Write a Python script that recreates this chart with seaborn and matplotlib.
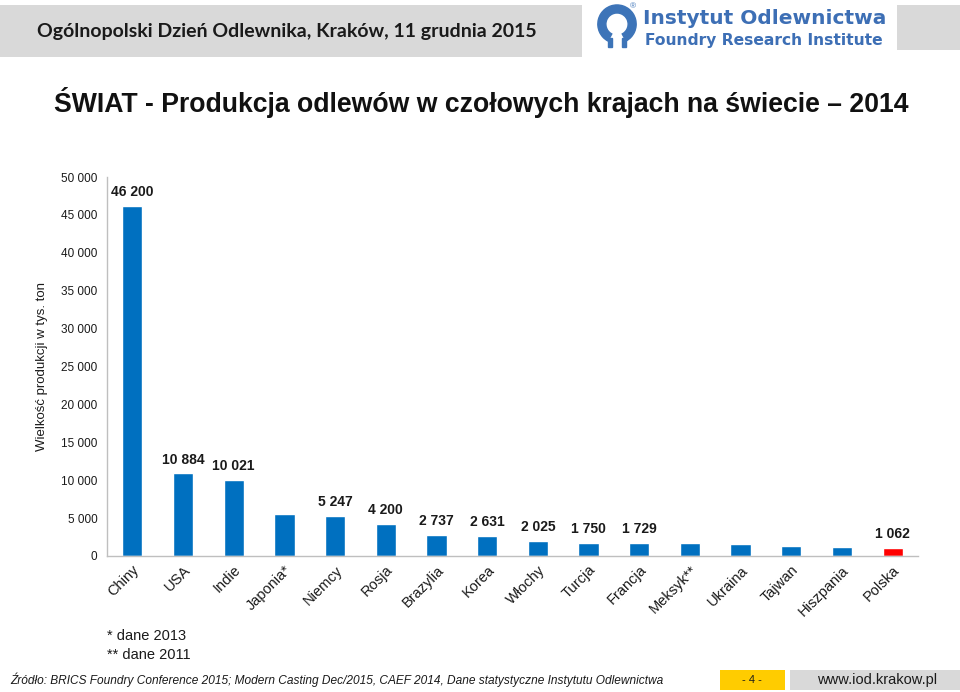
import matplotlib
matplotlib.use('Agg')
import matplotlib.pyplot as plt
from matplotlib.patches import Rectangle, Wedge
from matplotlib.ticker import FuncFormatter
import seaborn as sns

# dane: produkcja odlewów 2014, tys. ton
kraje = ["Chiny", "USA", "Indie", "Japonia*", "Niemcy", "Rosja", "Brazylia", "Korea",
         "Włochy", "Turcja", "Francja", "Meksyk**", "Ukraina", "Tajwan", "Hiszpania", "Polska"]
produkcja = [46200, 10884, 10021, 5500, 5247, 4200, 2737, 2631,
             2025, 1750, 1729, 1650, 1550, 1330, 1150, 1062]
z_etykieta = [True, True, True, False, True, True, True, True,
              True, True, True, False, False, False, False, True]
kolory = ["#0070C0"] * 15 + ["#FF0000"]
y_ticks = list(range(0, 50001, 5000))

sns.set_theme(style="white")
plt.rcParams['font.family'] = ['Liberation Sans', 'DejaVu Sans']

W, H = 960, 692
fig = plt.figure(figsize=(W / 100, H / 100), dpi=100)
fig.patch.set_facecolor("white")

def fx(px):
    return px / W

def fy(py):
    return 1 - py / H

# naglowek
fig.patches.append(Rectangle((0, fy(57)), fx(582), fy(5) - fy(57), transform=fig.transFigure,
                             facecolor="#D9D9D9", edgecolor="none", zorder=0))
fig.patches.append(Rectangle((fx(897), fy(50)), fx(63), fy(5) - fy(50), transform=fig.transFigure,
                             facecolor="#D9D9D9", edgecolor="none", zorder=0))
fig.text(fx(37), fy(32), "Ogólnopolski Dzień Odlewnika, Kraków, 11 grudnia 2015",
         fontsize=14, fontweight="bold", family=["Lato", "DejaVu Sans"], color="#1A1A1A", va="center")

# logo
logo = fig.add_axes([fx(594), fy(50), fx(46), fy(4) - fy(50)])
logo.set_xlim(-1.2, 1.2)
logo.set_ylim(-1.2, 1.2)
logo.set_aspect("equal")
logo.axis("off")
niebieski = "#3D74B8"
logo.add_patch(Wedge((0, 0.15), 1.0, -62, 242, width=0.42, color=niebieski))
logo.add_patch(Rectangle((-0.48, -1.05), 0.22, 0.5, color=niebieski))
logo.add_patch(Rectangle((0.26, -1.05), 0.22, 0.5, color=niebieski))
fig.text(fx(633), fy(7), "®", fontsize=6, color=niebieski, ha="center", va="center")
fig.text(fx(643), fy(19), "Instytut Odlewnictwa", fontsize=14.5, fontweight="bold",
         family="DejaVu Sans", color="#3D6FB5", va="center")
fig.text(fx(645), fy(40), "Foundry Research Institute", fontsize=11.2, fontweight="bold",
         family="DejaVu Sans", color="#3D6FB5", va="center")

# tytul
fig.text(fx(481), fy(102), "ŚWIAT - Produkcja odlewów w czołowych krajach na świecie – 2014",
         fontsize=19.2, fontweight="bold", color="#111111", ha="center", va="center")

# wykres
ax = fig.add_axes([fx(107), fy(556), fx(918) - fx(107), fy(177) - fy(556)])
sns.barplot(x=kraje, y=produkcja, hue=kraje, palette=kolory, legend=False,
            width=0.4, saturation=1, ax=ax)

fmt = lambda v: f"{int(v):,}".replace(",", " ")
for cont, v, pokaz in zip(ax.containers, produkcja, z_etykieta):
    ax.bar_label(cont, labels=[fmt(v) if pokaz else ""], padding=5,
                 fontsize=10, fontweight="bold", color="#1A1A1A")

ax.set_ylim(0, 50000)
ax.set_xlim(-0.5, len(kraje) - 0.5)
ax.set_yticks(y_ticks)
ax.yaxis.set_major_formatter(FuncFormatter(lambda v, p: fmt(v)))
ax.tick_params(axis="y", labelsize=8.5, length=0, pad=7, colors="#1A1A1A")
ax.tick_params(axis="x", labelsize=10.5, length=0, pad=5, colors="#1A1A1A")
plt.setp(ax.get_xticklabels(), rotation=45, ha="right", rotation_mode="anchor")
ax.set_xlabel("")
ax.set_ylabel("Wielkość produkcji w tys. ton", fontsize=9.5, color="#1A1A1A")
ax.yaxis.set_label_coords(-0.073, 0.5)
for s in ["top", "right"]:
    ax.spines[s].set_visible(False)
for s in ["left", "bottom"]:
    ax.spines[s].set_color("#BFBFBF")
    ax.spines[s].set_linewidth(1)

# przypisy
fig.text(fx(107), fy(636), "* dane 2013", fontsize=10.5, color="#1A1A1A", va="center")
fig.text(fx(107), fy(655), "** dane 2011", fontsize=10.5, color="#1A1A1A", va="center")

# stopka
fig.text(fx(10), fy(680), "Źródło: BRICS Foundry Conference 2015; Modern Casting Dec/2015, CAEF 2014, "
         "Dane statystyczne Instytutu Odlewnictwa", fontsize=8.6, style="italic",
         color="#1A1A1A", va="center")
fig.patches.append(Rectangle((fx(720), fy(690)), fx(65), fy(670) - fy(690), transform=fig.transFigure,
                             facecolor="#FFCC00", edgecolor="none"))
fig.text(fx(752), fy(680), "- 4 -", fontsize=8, color="#1A1A1A", ha="center", va="center")
fig.patches.append(Rectangle((fx(790), fy(690)), fx(170), fy(670) - fy(690), transform=fig.transFigure,
                             facecolor="#D9D9D9", edgecolor="none"))
fig.text(fx(877), fy(680), "www.iod.krakow.pl", fontsize=10.5, color="#1A1A1A", ha="center", va="center")

fig.savefig("out.png", dpi=100)
